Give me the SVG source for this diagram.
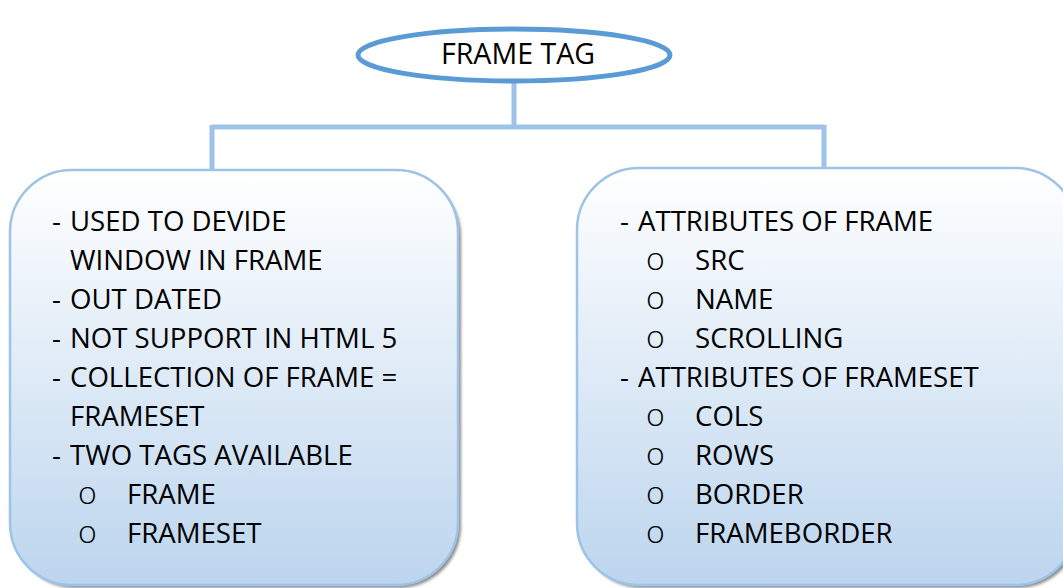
<svg xmlns="http://www.w3.org/2000/svg" width="1063" height="588" viewBox="0 0 1063 588">
<style>
.t{font-family:"Open Sans",Lato,sans-serif;font-size:27.6px;fill:#000}
.h{font-size:28.6px}
.b{font-family:"Open Sans",sans-serif;font-weight:300;font-size:32px;fill:#000}
.box{fill:url(#g);stroke:#9dc3e6;stroke-width:2.5}
.sh{fill:#8c8c8c;filter:url(#blur)}
.con{fill:none;stroke:#9dc3e6;stroke-width:5}
</style>
<defs>
<linearGradient id="g" x1="0" y1="0" x2="0" y2="1">
<stop offset="0" stop-color="#ffffff"/>
<stop offset="1" stop-color="#bcd5ee"/>
</linearGradient>
<filter id="blur" x="-10%" y="-10%" width="120%" height="120%"><feGaussianBlur stdDeviation="1.5"/></filter>
</defs>
<rect width="1063" height="588" fill="#fff"/>
<g id="connectors">
<path class="con" d="M514 82 V127 M212 127 H824 M212 125 V171 M824 125 V169"/>
</g>
<g id="frame-tag">
<ellipse cx="514" cy="55" rx="156" ry="26" fill="#fff" stroke="#5b9bd5" stroke-width="5"/>
<text class="t h" x="518" y="64" text-anchor="middle">FRAME TAG</text>
</g>
<g id="left-box">
<rect class="sh" x="13" y="174" width="448" height="414" rx="62"/>
<rect class="box" x="10" y="170" width="448" height="415" rx="62"/>
<text class="t" x="52" y="231">-</text><text class="t" x="70" y="231">USED TO DEVIDE</text>
<text class="t" x="70" y="270">WINDOW IN FRAME</text>
<text class="t" x="52" y="309">-</text><text class="t" x="70" y="309">OUT DATED</text>
<text class="t" x="52" y="348">-</text><text class="t" x="70" y="348">NOT SUPPORT IN HTML 5</text>
<text class="t" x="52" y="387">-</text><text class="t" x="70" y="387">COLLECTION OF FRAME =</text>
<text class="t" x="70" y="426">FRAMESET</text>
<text class="t" x="52" y="465">-</text><text class="t" x="70" y="465">TWO TAGS AVAILABLE</text>
<text class="b" x="78" y="504">o</text><text class="t" x="127" y="504">FRAME</text>
<text class="b" x="78" y="543">o</text><text class="t" x="127" y="543">FRAMESET</text>
</g>
<g id="right-box">
<rect class="sh" x="580" y="172" width="500" height="416" rx="62"/>
<rect class="box" x="577" y="168" width="500" height="417" rx="62"/>
<text class="t" x="620" y="231">-</text><text class="t" x="638" y="231">ATTRIBUTES OF FRAME</text>
<text class="b" x="646" y="270">o</text><text class="t" x="695" y="270">SRC</text>
<text class="b" x="646" y="309">o</text><text class="t" x="695" y="309">NAME</text>
<text class="b" x="646" y="348">o</text><text class="t" x="695" y="348">SCROLLING</text>
<text class="t" x="620" y="387">-</text><text class="t" x="638" y="387">ATTRIBUTES OF FRAMESET</text>
<text class="b" x="646" y="426">o</text><text class="t" x="695" y="426">COLS</text>
<text class="b" x="646" y="465">o</text><text class="t" x="695" y="465">ROWS</text>
<text class="b" x="646" y="504">o</text><text class="t" x="695" y="504">BORDER</text>
<text class="b" x="646" y="543">o</text><text class="t" x="695" y="543">FRAMEBORDER</text>
</g>
</svg>
